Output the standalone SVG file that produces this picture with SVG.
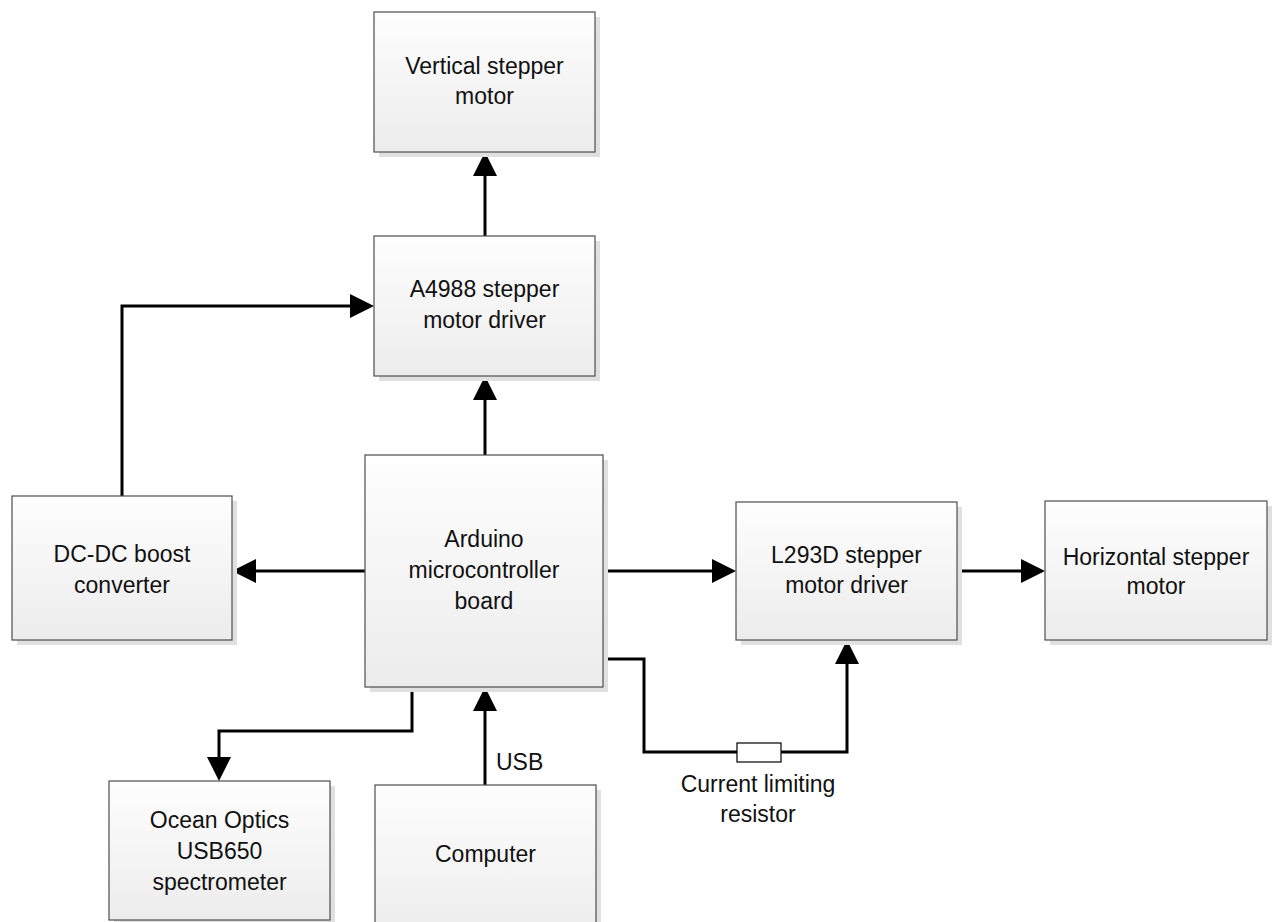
<svg xmlns="http://www.w3.org/2000/svg" width="1274" height="922" viewBox="0 0 1274 922">
<style>
.box{fill:url(#g);stroke:#4d4d4d;stroke-width:1.2}
.sh{fill:#e0e0e0}
.t{font-family:"Liberation Sans",Arial,sans-serif;font-size:23px;fill:#111;text-anchor:middle}
.c{fill:none;stroke:#000;stroke-width:3;stroke-linejoin:miter}
.ca{fill:none;stroke:#000;stroke-width:3;stroke-linejoin:miter;marker-end:url(#ah)}
</style>
<defs>
<linearGradient id="g" x1="0" y1="0" x2="0" y2="1">
<stop offset="0" stop-color="#fefefe"/>
<stop offset="1" stop-color="#ececec"/>
</linearGradient>
<marker id="ah" markerUnits="userSpaceOnUse" markerWidth="24" markerHeight="24" refX="10" refY="12" orient="auto">
<path d="M0,0 L24,12 L0,24 z" fill="#000"/>
</marker>
</defs>
<rect width="1274" height="922" fill="#fff"/>

<g id="connectors">
<path class="ca" d="M485,236 V166"/>
<path class="ca" d="M485,455 V390"/>
<path class="ca" d="M122,496 V306 H360"/>
<path class="ca" d="M365,571 H246"/>
<path class="ca" d="M603,571 H722"/>
<path class="ca" d="M957,571 H1031"/>
<path class="ca" d="M412,687 V731 H219 V767"/>
<path class="ca" d="M485,785 V701"/>
<path class="c" d="M603,659 H644 V752 H737"/>
<path class="ca" d="M781,752 H847 V654"/>
<text class="t" x="496" y="770" style="text-anchor:start">USB</text>
</g>

<g id="resistor">
<rect x="737" y="743" width="44" height="19" fill="#fff" stroke="#000" stroke-width="1.2"/>
<text class="t" x="758" y="792">Current limiting</text>
<text class="t" x="758" y="822">resistor</text>
</g>

<g id="vertical-motor">
<rect class="sh" x="379" y="17" width="221" height="140"/>
<rect class="box" x="374" y="12" width="221" height="140"/>
<text class="t" x="484.5" y="74">Vertical stepper</text>
<text class="t" x="484.5" y="104">motor</text>
</g>

<g id="a4988">
<rect class="sh" x="379" y="241" width="221" height="140"/>
<rect class="box" x="374" y="236" width="221" height="140"/>
<text class="t" x="484.5" y="297">A4988 stepper</text>
<text class="t" x="484.5" y="328">motor driver</text>
</g>

<g id="arduino">
<rect class="sh" x="370" y="460" width="238" height="232"/>
<rect class="box" x="365" y="455" width="238" height="232"/>
<text class="t" x="484" y="547">Arduino</text>
<text class="t" x="484" y="578">microcontroller</text>
<text class="t" x="484" y="609">board</text>
</g>

<g id="dcdc">
<rect class="sh" x="17" y="501" width="220" height="144"/>
<rect class="box" x="12" y="496" width="220" height="144"/>
<text class="t" x="122" y="562">DC-DC boost</text>
<text class="t" x="122" y="593">converter</text>
</g>

<g id="l293d">
<rect class="sh" x="741" y="507" width="221" height="138"/>
<rect class="box" x="736" y="502" width="221" height="138"/>
<text class="t" x="846.5" y="563">L293D stepper</text>
<text class="t" x="846.5" y="593">motor driver</text>
</g>

<g id="horizontal-motor">
<rect class="sh" x="1050" y="506" width="222" height="139"/>
<rect class="box" x="1045" y="501" width="222" height="139"/>
<text class="t" x="1156" y="565">Horizontal stepper</text>
<text class="t" x="1156" y="594">motor</text>
</g>

<g id="spectrometer">
<rect class="sh" x="114" y="786" width="221" height="139"/>
<rect class="box" x="109" y="781" width="221" height="139"/>
<text class="t" x="219.5" y="828">Ocean Optics</text>
<text class="t" x="219.5" y="859">USB650</text>
<text class="t" x="219.5" y="890">spectrometer</text>
</g>

<g id="computer">
<rect class="sh" x="380" y="790" width="221" height="150"/>
<rect class="box" x="375" y="785" width="221" height="150"/>
<text class="t" x="485.5" y="862">Computer</text>
</g>
</svg>
